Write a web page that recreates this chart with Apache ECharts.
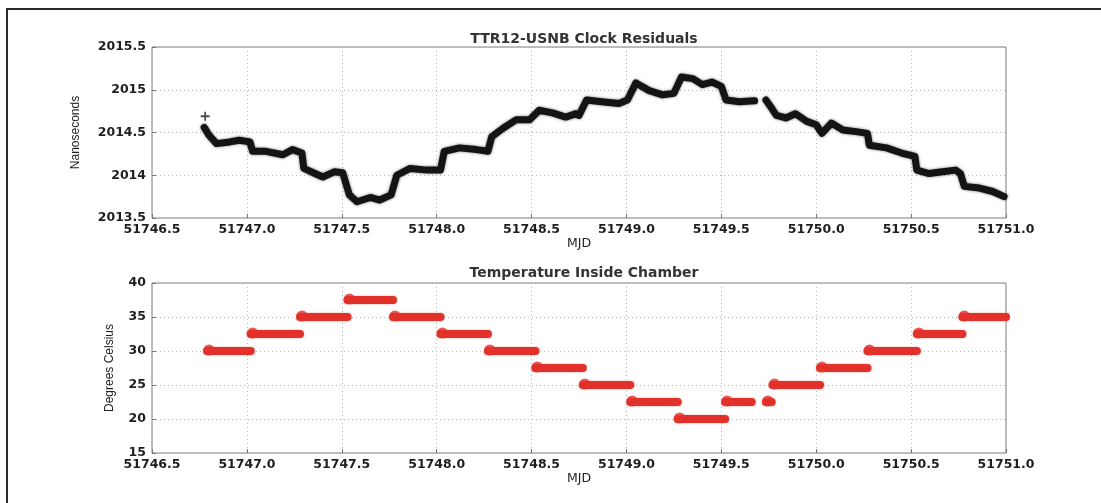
<!DOCTYPE html>
<html>
<head>
<meta charset="utf-8">
<script src="https://cdn.jsdelivr.net/npm/echarts@6/dist/echarts.min.js"></script>
<style>
  html, body { margin: 0; padding: 0; background: #fff; }
  #chart { position: absolute; left: 0; top: 0; width: 1101px; height: 503px; }
  #frame { position: absolute; left: 6px; top: 8px; width: 1200px; height: 600px;
           border-top: 2px solid #2a2a2a; border-left: 2px solid #2a2a2a; pointer-events: none; }
</style>
</head>
<body>
<div id="chart"></div>
<div id="frame"></div>
<script>
// ---- Data ----
const xTicksMin = 51746.5;
const xTicksMax = 51751.0;

// Top panel: TTR12-USNB clock residuals (ns); null marks the data gap
const clockMjd = [51746.775, 51746.80, 51746.84, 51746.91, 51746.96, 51747.016, 51747.03, 51747.10, 51747.19, 51747.24,
  51747.29, 51747.30, 51747.35, 51747.40, 51747.46, 51747.505, 51747.54, 51747.58, 51747.65, 51747.70,
  51747.76, 51747.79, 51747.86, 51747.95, 51748.02, 51748.04, 51748.12, 51748.21, 51748.27, 51748.29,
  51748.35, 51748.42, 51748.49, 51748.54, 51748.61, 51748.68, 51748.735, 51748.75, 51748.79, 51748.87,
  51748.96, 51749.005, 51749.05, 51749.12, 51749.19, 51749.25, 51749.29, 51749.35, 51749.40, 51749.45,
  51749.50, 51749.525, 51749.595, 51749.675, null, 51749.735, 51749.76, 51749.79, 51749.84, 51749.89,
  51749.95, 51750.00, 51750.03, 51750.08, 51750.14, 51750.21, 51750.27, 51750.28, 51750.37, 51750.45,
  51750.52, 51750.53, 51750.595, 51750.665, 51750.735, 51750.76, 51750.78, 51750.86, 51750.93, 51750.99];
const clockNs = [2014.56, 2014.47, 2014.37, 2014.39, 2014.41, 2014.39, 2014.28, 2014.28, 2014.24, 2014.30,
  2014.26, 2014.08, 2014.03, 2013.98, 2014.04, 2014.03, 2013.77, 2013.69, 2013.74, 2013.71,
  2013.77, 2014.00, 2014.08, 2014.06, 2014.06, 2014.28, 2014.32, 2014.30, 2014.28, 2014.45,
  2014.55, 2014.65, 2014.65, 2014.76, 2014.73, 2014.68, 2014.72, 2014.70, 2014.88, 2014.86,
  2014.84, 2014.88, 2015.08, 2014.99, 2014.94, 2014.96, 2015.15, 2015.13, 2015.06, 2015.09,
  2015.04, 2014.88, 2014.86, 2014.87, null, 2014.88, 2014.80, 2014.70, 2014.67, 2014.72,
  2014.63, 2014.59, 2014.49, 2014.61, 2014.53, 2014.51, 2014.49, 2014.35, 2014.32, 2014.26,
  2014.22, 2014.06, 2014.02, 2014.04, 2014.06, 2014.02, 2013.87, 2013.85, 2013.81, 2013.75];
const outlierMjd = [51746.78];
const outlierNs = [2014.69];

// Bottom panel: temperature steps (deg C)
const tempStart = [51746.79, 51747.02, 51747.28, 51747.53, 51747.77, 51748.02, 51748.27, 51748.52, 51748.77,
  51749.02, 51749.27, 51749.52, 51749.735, 51749.77, 51750.02, 51750.27, 51750.53, 51750.77];
const tempEnd = [51747.02, 51747.28, 51747.53, 51747.77, 51748.02, 51748.27, 51748.52, 51748.77, 51749.02,
  51749.27, 51749.52, 51749.66, 51749.765, 51750.02, 51750.27, 51750.53, 51750.77, 51751.0];
const tempLevel = [30, 32.5, 35, 37.5, 35, 32.5, 30, 27.5, 25, 22.5, 20, 22.5, 22.5, 25, 27.5, 30, 32.5, 35];

const topTitle = 'TTR12-USNB Clock Residuals';
const bottomTitle = 'Temperature Inside Chamber';

// ---- Chart ----
const chart = echarts.init(document.getElementById('chart'), null, { renderer: 'canvas' });

const labelFont = { fontFamily: 'DejaVu Sans', fontWeight: 'bold', fontSize: 12.5, color: '#1e1e1e' };
const gridLine = { show: true, lineStyle: { color: '#b8b8b8', type: [1, 3], width: 1 } };

function xAxis(gridIndex) {
  return {
    type: 'value', gridIndex, min: xTicksMin, max: xTicksMax, interval: 0.5,
    name: 'MJD', nameLocation: 'middle', nameGap: 19,
    nameTextStyle: { fontFamily: 'DejaVu Sans', fontSize: 12.5, color: '#1e1e1e', verticalAlign: 'top' },
    axisLine: { show: false },
    axisTick: { show: true, inside: true, length: 4, lineStyle: { color: '#777' } },
    axisLabel: Object.assign({ formatter: v => v.toFixed(1), margin: 5 }, labelFont),
    splitLine: gridLine
  };
}

const clockData = clockMjd.map((x, i) => x === null ? '-' : [x, clockNs[i]]);

const series = [
  {
    type: 'line', xAxisIndex: 0, yAxisIndex: 0, data: clockData, showSymbol: false,
    connectNulls: false, smooth: false,
    lineStyle: { color: '#141414', width: 7, cap: 'round', join: 'round',
                 shadowColor: 'rgba(0,0,0,0.55)', shadowBlur: 3 },
    silent: true, animation: false
  },
  {
    type: 'scatter', xAxisIndex: 0, yAxisIndex: 0,
    data: outlierMjd.map((x, i) => [x, outlierNs[i]]),
    symbol: 'path://M4,0H6V4H10V6H6V10H4V6H0V4H4Z', symbolSize: 9,
    itemStyle: { color: '#222' }, silent: true, animation: false
  }
];

tempLevel.forEach((lvl, i) => {
  series.push({
    type: 'line', xAxisIndex: 1, yAxisIndex: 1,
    data: [[tempStart[i], lvl], [tempEnd[i], lvl]], showSymbol: false,
    lineStyle: { color: '#e2312a', width: 8, cap: 'round',
                 shadowColor: 'rgba(230,60,40,0.5)', shadowBlur: 2 },
    silent: true, animation: false
  });
});
series.push({
  type: 'scatter', xAxisIndex: 1, yAxisIndex: 1,
  data: tempStart.map((x, i) => [x, tempLevel[i]]),
  symbol: 'circle', symbolSize: 11, symbolOffset: [2, -1],
  itemStyle: { color: '#e2312a' }, silent: true, animation: false
});

chart.setOption({
  backgroundColor: '#fff',
  animation: false,
  title: [
    { text: topTitle, left: 579, top: 27, textAlign: 'center',
      textStyle: { fontFamily: 'DejaVu Sans', fontWeight: 'bold', fontSize: 14, color: '#333' } },
    { text: bottomTitle, left: 579, top: 261, textAlign: 'center',
      textStyle: { fontFamily: 'DejaVu Sans', fontWeight: 'bold', fontSize: 14, color: '#333' } }
  ],
  grid: [
    { left: 152, top: 47, width: 854, height: 171, show: true, borderColor: '#7a7a7a', borderWidth: 1, backgroundColor: '#fff' },
    { left: 152, top: 283, width: 854, height: 170, show: true, borderColor: '#7a7a7a', borderWidth: 1, backgroundColor: '#fff' }
  ],
  xAxis: [xAxis(0), xAxis(1)],
  yAxis: [
    {
      type: 'value', gridIndex: 0, min: 2013.5, max: 2015.5, interval: 0.5,
      name: 'Nanoseconds', nameLocation: 'middle', nameGap: 70, nameRotate: 90,
      nameTextStyle: { fontFamily: 'Liberation Sans Narrow, Liberation Sans', fontSize: 12, color: '#1e1e1e' },
      axisLine: { show: false },
      axisTick: { show: true, inside: true, length: 4, lineStyle: { color: '#777' } },
      axisLabel: Object.assign({ margin: 6, formatter: v => String(v) }, labelFont),
      splitLine: gridLine
    },
    {
      type: 'value', gridIndex: 1, min: 15, max: 40, interval: 5,
      name: 'Degrees Celsius', nameLocation: 'middle', nameGap: 36, nameRotate: 90,
      nameTextStyle: { fontFamily: 'Liberation Sans Narrow, Liberation Sans', fontSize: 12, color: '#1e1e1e' },
      axisLine: { show: false },
      axisTick: { show: true, inside: true, length: 4, lineStyle: { color: '#777' } },
      axisLabel: Object.assign({ margin: 6, formatter: v => String(v) }, labelFont),
      splitLine: gridLine
    }
  ],
  series
});
</script>
</body>
</html>
